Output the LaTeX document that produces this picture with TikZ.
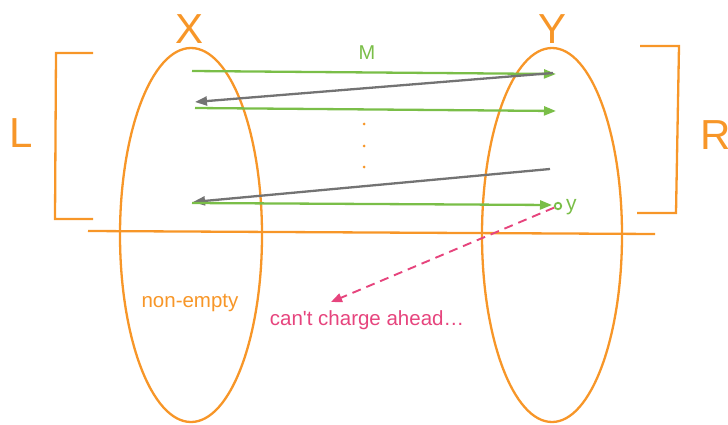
\documentclass[tikz,border=0pt]{standalone}
\usepackage{fontspec}
\setmainfont{Liberation Sans}
\usetikzlibrary{arrows.meta}
\definecolor{orng}{RGB}{247,150,40}
\definecolor{grn}{RGB}{122,190,72}
\definecolor{gry}{RGB}{115,115,115}
\definecolor{pnk}{RGB}{230,68,125}
\begin{document}
\begin{tikzpicture}[x=1pt,y=-1pt,
  setline/.style={orng,line width=2.3pt},
  garrow/.style={grn,line width=2.3pt,-{Triangle[length=12pt,width=9pt]}},
  darrow/.style={gry,line width=2.3pt,-{Triangle[length=12pt,width=9pt]}},
  biglab/.style={orng,font=\fontsize{42}{42}\selectfont,inner sep=0pt},
  dotnode/.style={circle,fill=orng,inner sep=0pt,minimum size=3pt}]
\useasboundingbox (0,0) rectangle (728,425);
% sets
\draw[setline] (191,235) ellipse [x radius=71, y radius=187];
\draw[setline] (552,235) ellipse [x radius=70, y radius=187];
\node[biglab] (X) at (190,29) {X};
\node[biglab] (Y) at (553,29) {Y};
% brackets
\draw[setline] (93,53) -- (56,53) -- (55,219) -- (93,219);
\node[biglab] (L) at (21,133) {L};
\draw[setline] (640,46) -- (679,46) -- (676,213) -- (637,213);
\node[biglab] (R) at (716,135) {R};
% horizontal line
\coordinate (hl) at (88,231);
\coordinate (hr) at (655,234);
\draw[setline] (hl) -- (hr);
% arrows
\coordinate (a1) at (192,71);  \coordinate (b1) at (556,74);
\coordinate (c1) at (553,73);  \coordinate (d1) at (195,102);
\coordinate (a2) at (195,108); \coordinate (b2) at (556,111);
\coordinate (c2) at (550,169); \coordinate (d2) at (193,202);
\coordinate (a3) at (192,203); \coordinate (b3) at (552,205);
\draw[garrow] (a1) -- (b1);
\draw[darrow] (c1) -- (d1);
\draw[garrow] (a2) -- (b2);
\draw[darrow] (c2) -- (d2);
\draw[garrow] (a3) -- (b3);
\node[grn,font=\fontsize{20}{20}\selectfont] (M) at (367,53) {M};
\node[dotnode] (p1) at (364,124) {};
\node[dotnode] (p2) at (364,146) {};
\node[dotnode] (p3) at (364,167) {};
% y point
\node[circle,draw=grn,line width=1.8pt,inner sep=0pt,minimum size=6.5pt] (y) at (558,206) {};
\node[grn,font=\fontsize{21}{21}\selectfont,anchor=west,inner sep=0pt] (ylab) at (566,207) {y};
% texts
\node[orng,font=\fontsize{20.5}{20.5}\selectfont] (ne) at (190,303) {non-empty};
\node[pnk,font=\fontsize{20.5}{20.5}\selectfont] (cc) at (367,320) {can\textquotesingle t charge ahead…};
\coordinate (tip) at (331,302);
\draw[pnk,line width=1.9pt,dash pattern=on 9pt off 6pt,-{Triangle[length=11pt,width=9pt]}] (y) -- (tip);
\end{tikzpicture}
\end{document}
